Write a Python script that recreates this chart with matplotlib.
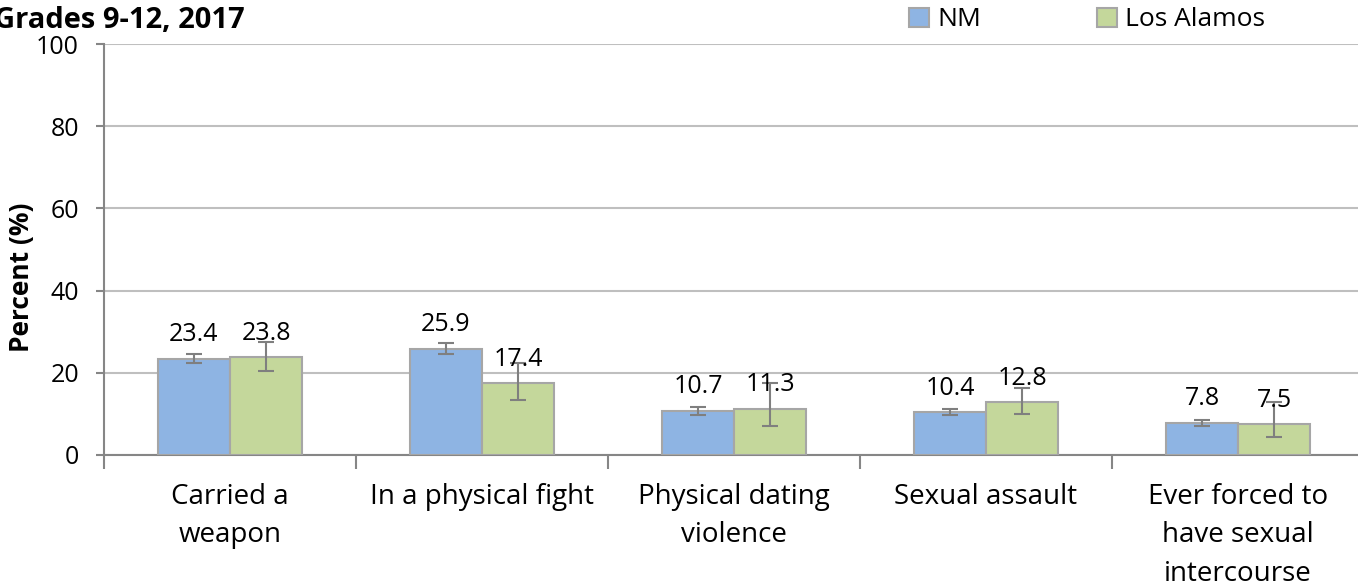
import matplotlib.pyplot as plt
import numpy as np

# 数据
categories = ["Carried a\nweapon", "In a physical fight", "Physical dating\nviolence",
              "Sexual assault", "Ever forced to\nhave sexual\nintercourse"]
nm_values = [23.4, 25.9, 10.7, 10.4, 7.8]
nm_low = [22.3, 24.6, 9.8, 9.7, 7.1]
nm_high = [24.6, 27.2, 11.7, 11.1, 8.6]
la_values = [23.8, 17.4, 11.3, 12.8, 7.5]
la_low = [20.5, 13.3, 7.1, 10.0, 4.3]
la_high = [27.5, 22.5, 17.4, 16.2, 13.0]
y_ticks = [0, 20, 40, 60, 80, 100]

plt.rcParams['font.family'] = ['Open Sans', 'DejaVu Sans']

fig = plt.figure(figsize=(13.58, 5.88), dpi=100)
ax = fig.add_axes([104 / 1358, 1 - 455 / 588, 1260 / 1358, 411 / 588])

x = np.arange(len(categories))
w = 0.286
nm_col, la_col = '#8EB4E3', '#C4D79B'
edge = '#A6A6A6'
err_col = '#7F7F7F'

nm_err = [np.array(nm_values) - np.array(nm_low), np.array(nm_high) - np.array(nm_values)]
la_err = [np.array(la_values) - np.array(la_low), np.array(la_high) - np.array(la_values)]

ax.bar(x - w / 2, nm_values, w, color=nm_col, edgecolor=edge, linewidth=1.5, label='NM', zorder=3)
ax.bar(x + w / 2, la_values, w, color=la_col, edgecolor=edge, linewidth=1.5, label='Los Alamos', zorder=3)
ax.errorbar(x - w / 2, nm_values, yerr=nm_err, fmt='none', ecolor=err_col, elinewidth=1.5,
            capsize=6, capthick=1.5, zorder=4)
ax.errorbar(x + w / 2, la_values, yerr=la_err, fmt='none', ecolor=err_col, elinewidth=1.5,
            capsize=6, capthick=1.5, zorder=4)

# 数值标签（柱顶上方固定偏移）
for xs, vals in [(x - w / 2, nm_values), (x + w / 2, la_values)]:
    for xi, v in zip(xs, vals):
        ax.text(xi, v + 4.3, f"{v:.1f}", ha='center', va='baseline', fontsize=18, zorder=5)

ax.set_xlim(-0.5, len(categories) - 0.5)
ax.set_ylim(0, 100)
ax.set_yticks(y_ticks)
ax.tick_params(axis='y', labelsize=18, length=6, color='#868686', width=1.5, pad=12)
ax.yaxis.grid(True, color='#BFBFBF', linewidth=1.5, zorder=0)
ax.set_axisbelow(True)

ax.set_xticks(x)
ax.set_xticklabels(categories, fontsize=20, linespacing=1.5)
ax.tick_params(axis='x', length=0, pad=20)
ax.set_xticks(np.arange(-0.5, len(categories) + 0.5, 1), minor=True)
ax.tick_params(axis='x', which='minor', length=10, color='#868686', width=1.5)

for s in ['top', 'right']:
    ax.spines[s].set_visible(False)
for s in ['left', 'bottom']:
    ax.spines[s].set_color('#868686')
    ax.spines[s].set_linewidth(1.5)

ax.set_ylabel('Percent (%)', fontsize=19, fontweight='bold')
ax.yaxis.set_label_coords(-0.0548, 0.433)

fig.text(245 / 1358, 1 - 20 / 588, 'Grades 9-12, 2017', fontsize=21, fontweight='bold',
         va='center', ha='right')

fig.legend(loc='center', bbox_to_anchor=(1087 / 1358, 1 - 20 / 588), ncol=2, frameon=False,
           fontsize=19, handlelength=0.75, handleheight=0.75, handletextpad=0.3, columnspacing=4.4,
           borderpad=0)

fig.savefig('out.png', dpi=100)
